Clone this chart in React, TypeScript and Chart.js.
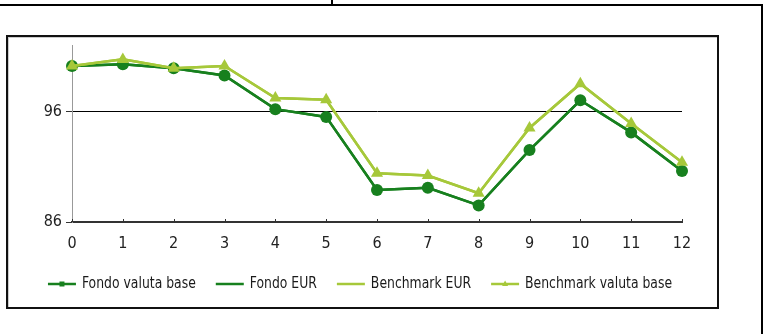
import React, { useEffect, useRef } from "react";
import { Chart, registerables } from "chart.js";

Chart.register(...registerables);

const categories = ["0", "1", "2", "3", "4", "5", "6", "7", "8", "9", "10", "11", "12"];
const fondoValutaBase = [100.1, 100.25, 99.9, 99.25, 96.2, 95.5, 88.9, 89.1, 87.5, 92.5, 97.0, 94.1, 90.6];
const fondoEUR = [100.1, 100.25, 99.9, 99.25, 96.2, 95.5, 88.9, 89.1, 87.5, 92.5, 97.0, 94.1, 90.6];
const benchmarkEUR = [100.1, 100.7, 99.9, 100.1, 97.2, 97.05, 90.4, 90.2, 88.6, 94.5, 98.5, 94.9, 91.4];
const benchmarkValutaBase = [100.1, 100.7, 99.9, 100.1, 97.2, 97.05, 90.4, 90.2, 88.6, 94.5, 98.5, 94.9, 91.4];
const yTickValues = [86, 96];
const seriesNames = ["Fondo valuta base", "Fondo EUR", "Benchmark EUR", "Benchmark valuta base"];

const DARK = "#17801e";
const LIGHT = "#a6c83a";
const FONT_FAMILY = "'Liberation Sans Narrow', 'Arial Narrow', 'DejaVu Sans Condensed', sans-serif";

const upTicksPlugin = {
  id: "upTicks",
  afterDatasetsDraw(chart: any) {
    const { ctx } = chart;
    const x = chart.scales.x;
    const y = chart.scales.y;
    ctx.save();
    ctx.strokeStyle = "#333";
    ctx.lineWidth = 1;
    for (let i = 0; i < categories.length; i++) {
      const px = Math.round(x.getPixelForValue(i)) + 0.5;
      ctx.beginPath();
      ctx.moveTo(px, y.bottom - 3);
      ctx.lineTo(px, y.bottom);
      ctx.stroke();
    }
    ctx.restore();
  },
};

const legendPlugin = {
  id: "customLegend",
  afterDraw(chart: any) {
    const { ctx } = chart;
    ctx.save();
    ctx.font = `15px ${FONT_FAMILY}`;
    ctx.textBaseline = "middle";
    ctx.textAlign = "left";
    const squeeze = 0.92;
    const lineLen = 28;
    const lineGap = 6;
    const itemGap = 20;
    const colors = [DARK, DARK, LIGHT, LIGHT];
    const textW = seriesNames.map((n) => ctx.measureText(n).width * squeeze);
    const widths = textW.map((w) => lineLen + lineGap + w);
    const total = widths.reduce((a, b) => a + b, 0) + itemGap * (seriesNames.length - 1);
    const center = 360;
    let x = center - total / 2;
    const y = 284;
    seriesNames.forEach((name, i) => {
      ctx.strokeStyle = colors[i];
      ctx.lineWidth = 2.5;
      ctx.beginPath();
      ctx.moveTo(x, y);
      ctx.lineTo(x + lineLen, y);
      ctx.stroke();
      if (i === 0) {
        ctx.fillStyle = colors[i];
        ctx.fillRect(x + lineLen / 2 - 2.5, y - 2.5, 5, 5);
      }
      if (i === 3) {
        ctx.fillStyle = colors[i];
        ctx.beginPath();
        ctx.moveTo(x + lineLen / 2, y - 3.5);
        ctx.lineTo(x + lineLen / 2 + 3, y + 2);
        ctx.lineTo(x + lineLen / 2 - 3, y + 2);
        ctx.closePath();
        ctx.fill();
      }
      ctx.fillStyle = "#1a1a1a";
      ctx.fillText(name, x + lineLen + lineGap, y, textW[i]);
      x += widths[i] + itemGap;
    });
    ctx.restore();
  },
};

export default function App() {
  const canvasRef = useRef<HTMLCanvasElement | null>(null);

  useEffect(() => {
    if (!canvasRef.current) return;
    const tickFont = { family: FONT_FAMILY, size: 16 };
    const chart = new Chart(canvasRef.current, {
      type: "line",
      data: {
        labels: categories,
        datasets: [
          {
            label: seriesNames[0],
            data: fondoValutaBase,
            borderColor: DARK,
            backgroundColor: DARK,
            borderWidth: 2.5,
            pointStyle: "circle",
            pointRadius: 6,
            pointBorderWidth: 0,
            order: 2,
            clip: false as any,
          },
          {
            label: seriesNames[1],
            data: fondoEUR,
            borderColor: DARK,
            backgroundColor: DARK,
            borderWidth: 2.5,
            pointRadius: 0,
            order: 3,
            clip: false as any,
          },
          {
            label: seriesNames[2],
            data: benchmarkEUR,
            borderColor: LIGHT,
            backgroundColor: LIGHT,
            borderWidth: 2.5,
            pointRadius: 0,
            order: 1,
            clip: false as any,
          },
          {
            label: seriesNames[3],
            data: benchmarkValutaBase,
            borderColor: LIGHT,
            backgroundColor: LIGHT,
            borderWidth: 2.5,
            pointStyle: "triangle",
            pointRadius: 7,
            pointBorderWidth: 0,
            order: 0,
            clip: false as any,
          },
        ],
      },
      options: {
        responsive: false,
        animation: false,
        layout: { padding: { left: 0, top: 45, right: 83, bottom: 0 } },
        plugins: {
          legend: { display: false },
          tooltip: { enabled: false },
        },
        scales: {
          x: {
            type: "category",
            offset: false,
            grid: { display: true, drawOnChartArea: false, drawTicks: false, offset: false },
            border: { color: "#333", width: 2 },
            ticks: { font: tickFont, color: "#222", padding: 12, maxRotation: 0, autoSkip: false },
            afterFit: (s: any) => {
              s.height = 112;
            },
          },
          y: {
            min: 86,
            max: 102,
            afterBuildTicks: (s: any) => {
              s.ticks = yTickValues.map((v) => ({ value: v }));
            },
            grid: {
              color: (c: any) => (c.tick && c.tick.value === 96 ? "#000" : "rgba(0,0,0,0)"),
              tickColor: "#333",
              tickLength: 6,
              lineWidth: 1,
            },
            border: { color: "#999", width: 1 },
            ticks: { font: tickFont, color: "#222", padding: 4 },
            afterFit: (s: any) => {
              s.width = 72;
            },
          },
        },
      },
      plugins: [upTicksPlugin, legendPlugin],
    });
    return () => chart.destroy();
  }, []);

  return (
    <div style={{ position: "fixed", left: 0, top: 0, width: 765, height: 334, background: "#fff", overflow: "hidden" }}>
      <div style={{ position: "absolute", left: 0, top: 4, width: 763, height: 2, background: "#000" }} />
      <div style={{ position: "absolute", left: 761, top: 4, width: 2, height: 330, background: "#000" }} />
      <div style={{ position: "absolute", left: 331, top: 0, width: 2, height: 5, background: "#000" }} />
      <div
        style={{
          position: "absolute",
          left: 6,
          top: 35,
          width: 709,
          height: 270,
          border: "2px solid #111",
          boxShadow: "inset 1px 1px 0 #ccc",
        }}
      />
      <canvas
        ref={canvasRef}
        width={765}
        height={334}
        style={{ position: "absolute", left: 0, top: 0, width: 765, height: 334 }}
      />
    </div>
  );
}
